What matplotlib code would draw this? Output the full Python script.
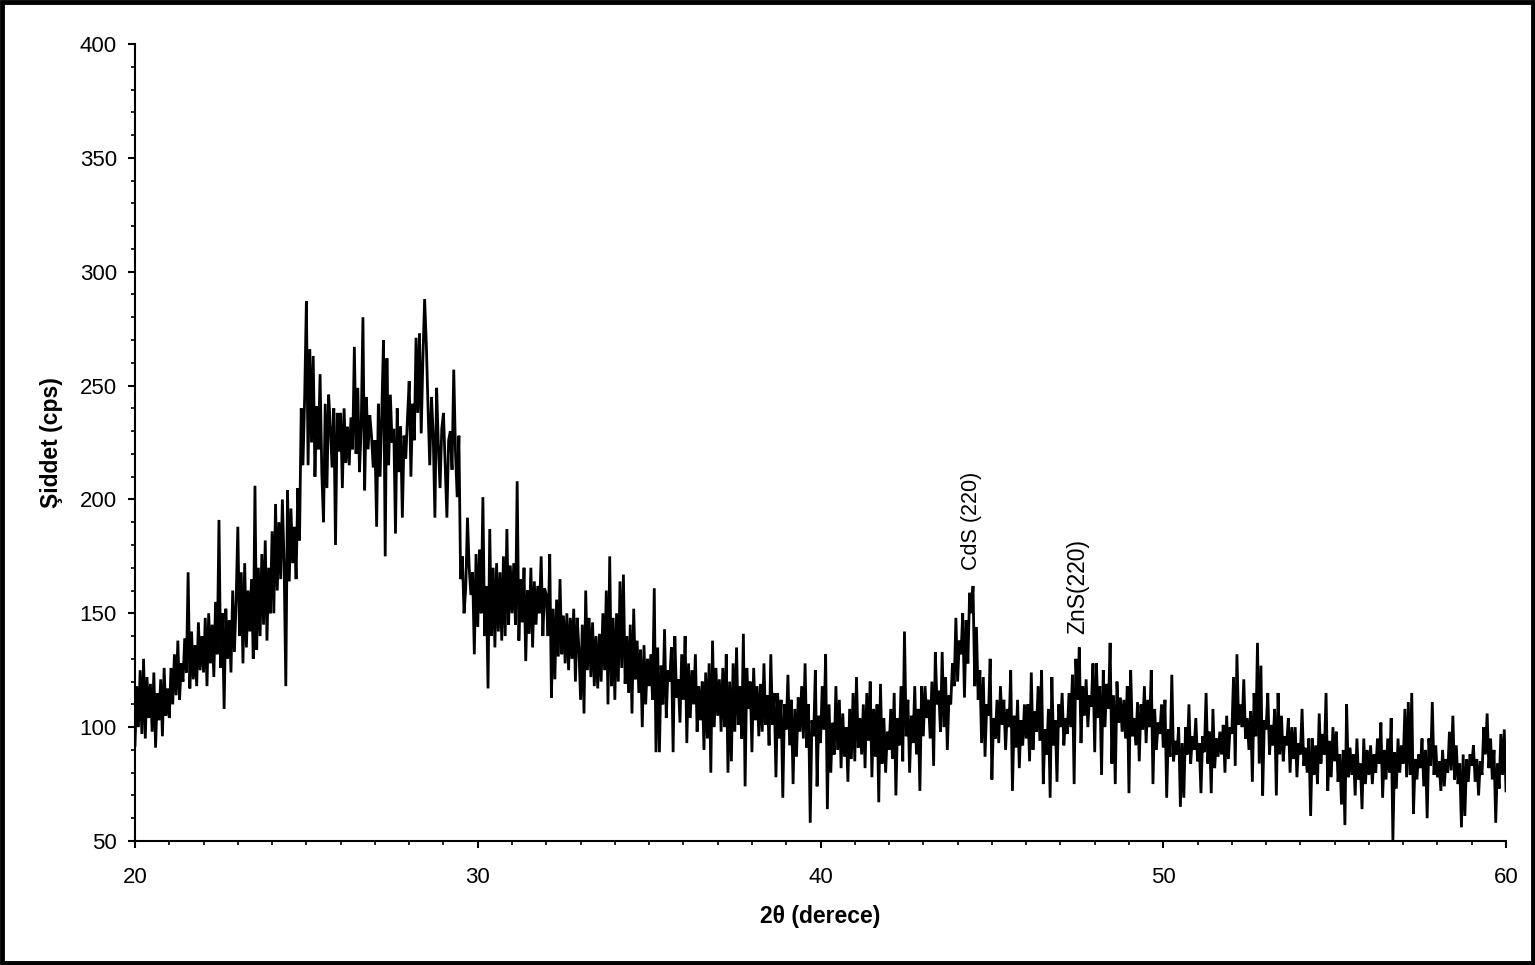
import matplotlib
matplotlib.use("Agg")
import matplotlib.pyplot as plt
from matplotlib.patches import Rectangle
from matplotlib.ticker import MultipleLocator
import numpy as np

plt.rcParams['font.family'] = ['Liberation Sans', 'DejaVu Sans']

# XRD scan: 2-theta from 20 to 60 degrees, 0.05 degree step (20 readings per degree)
two_theta_start = 20.0
two_theta_step = 0.05
intensity = [
    92, 118, 100, 125, 97, 130, 95, 122, 104, 119, 98, 124, 91, 115, 103, 121, 96, 126, 105, 117,
    104, 126, 110, 132, 114, 138, 112, 128, 120, 139, 124, 168, 117, 142, 121, 136, 118, 146, 125, 140,
    124, 148, 118, 150, 128, 145, 122, 155, 132, 191, 126, 150, 108, 152, 130, 147, 124, 160, 133, 155,
    188, 140, 168, 128, 172, 135, 160, 142, 165, 130, 206, 134, 170, 140, 176, 145, 182, 138, 170, 150,
    186, 150, 198, 160, 190, 165, 200, 172, 118, 204, 164, 196, 172, 188, 165, 205, 182, 240, 215, 245,
    287, 215, 266, 225, 263, 210, 241, 222, 255, 212, 190, 242, 205, 246, 232, 214, 240, 180, 238, 221,
    238, 205, 240, 216, 232, 215, 236, 222, 267, 220, 249, 212, 232, 280, 204, 245, 222, 237, 228, 214,
    226, 188, 242, 210, 238, 270, 175, 262, 215, 246, 225, 231, 185, 240, 212, 232, 192, 228, 218, 236,
    252, 210, 242, 226, 271, 238, 273, 229, 262, 288, 268, 240, 215, 245, 229, 192, 249, 224, 205, 231,
    238, 215, 192, 226, 230, 213, 257, 221, 201, 228, 165, 175, 150, 161, 192, 170, 158, 168, 132, 176,
    144, 178, 150, 201, 140, 162, 117, 187, 140, 170, 135, 172, 142, 168, 138, 175, 140, 187, 145, 171,
    150, 172, 145, 208, 138, 165, 146, 170, 129, 160, 141, 170, 135, 164, 145, 162, 150, 175, 140, 161,
    158, 140, 176, 113, 152, 121, 156, 131, 165, 132, 149, 128, 150, 125, 148, 130, 152, 120, 148, 135,
    112, 145, 106, 160, 125, 148, 122, 146, 118, 140, 117, 141, 120, 150, 125, 160, 110, 175, 118, 148,
    112, 150, 120, 164, 126, 167, 119, 140, 115, 145, 106, 152, 121, 138, 115, 134, 100, 136, 110, 130,
    118, 132, 112, 161, 89, 135, 89, 127, 110, 143, 104, 125, 120, 135, 89, 140, 113, 121, 102, 132,
    112, 140, 93, 128, 104, 125, 110, 132, 98, 118, 103, 120, 90, 124, 95, 128, 80, 138, 100, 126,
    105, 121, 98, 126, 100, 132, 80, 120, 85, 128, 98, 135, 101, 118, 95, 141, 74, 126, 108, 120,
    89, 126, 103, 118, 96, 119, 98, 128, 101, 114, 92, 132, 101, 115, 78, 115, 95, 112, 69, 110,
    99, 123, 92, 112, 75, 108, 87, 113, 98, 118, 95, 128, 91, 110, 58, 103, 96, 125, 74, 105,
    93, 118, 99, 132, 64, 110, 80, 102, 88, 118, 90, 112, 82, 106, 87, 100, 76, 108, 86, 115,
    85, 122, 91, 104, 88, 110, 82, 115, 94, 120, 78, 108, 87, 110, 67, 119, 84, 104, 80, 98,
    90, 108, 86, 115, 70, 104, 92, 118, 85, 142, 96, 112, 80, 105, 93, 118, 88, 108, 72, 118,
    96, 118, 104, 112, 95, 120, 83, 133, 110, 116, 98, 133, 100, 122, 90, 114, 110, 128, 118, 148,
    120, 138, 132, 150, 113, 147, 128, 159, 150, 162, 118, 144, 112, 125, 93, 122, 87, 110, 105, 130,
    77, 104, 95, 112, 93, 118, 101, 112, 90, 108, 100, 125, 72, 105, 91, 112, 82, 103, 92, 110,
    95, 110, 85, 124, 90, 107, 98, 118, 94, 125, 75, 99, 88, 108, 69, 122, 92, 103, 76, 110,
    100, 115, 92, 104, 97, 115, 100, 123, 75, 130, 112, 135, 93, 118, 105, 121, 100, 114, 109, 128,
    89, 128, 104, 118, 79, 125, 100, 119, 108, 137, 84, 114, 75, 120, 102, 113, 98, 112, 95, 118,
    71, 125, 96, 104, 92, 111, 85, 110, 99, 118, 93, 112, 100, 125, 75, 108, 90, 102, 97, 110,
    91, 112, 69, 99, 87, 123, 85, 94, 88, 100, 65, 93, 69, 100, 88, 110, 84, 96, 90, 104,
    85, 93, 71, 96, 89, 115, 84, 98, 71, 108, 82, 95, 87, 98, 88, 101, 80, 105, 86, 100,
    97, 122, 83, 132, 101, 110, 100, 121, 95, 104, 90, 107, 76, 115, 96, 137, 84, 127, 70, 103,
    99, 115, 88, 101, 92, 108, 70, 115, 88, 105, 85, 96, 92, 104, 80, 100, 86, 100, 78, 93,
    88, 108, 83, 91, 80, 95, 61, 95, 79, 92, 75, 106, 84, 97, 88, 115, 72, 94, 78, 100,
    85, 98, 76, 88, 66, 90, 57, 110, 78, 91, 79, 88, 70, 95, 77, 84, 64, 95, 75, 90,
    79, 92, 75, 88, 80, 95, 84, 102, 69, 90, 77, 95, 80, 104, 50, 89, 73, 95, 80, 92,
    84, 108, 78, 111, 79, 115, 62, 86, 77, 88, 82, 95, 74, 90, 60, 95, 83, 111, 79, 92,
    78, 85, 72, 90, 74, 86, 80, 98, 81, 105, 77, 92, 75, 84, 56, 88, 61, 86, 76, 88,
    83, 92, 76, 86, 70, 85, 79, 100, 88, 106, 82, 95, 77, 90, 58, 84, 73, 97, 79, 99,
    72,
]

# Peak labels: text, 2-theta position, intensity at the text base, font size
peak_labels = ["CdS (220)", "ZnS(220)"]
peak_x = [44.4, 47.5]
peak_y = [169, 141]
peak_fontsize = [15.5, 16.5]

x_label = "2θ (derece)"
y_label = "Şiddet (cps)"

two_theta = two_theta_start + two_theta_step * np.arange(len(intensity))

fig = plt.figure(figsize=(15.35, 9.65), dpi=100)
ax = fig.add_axes([135 / 1535, 1 - 841 / 965, (1506 - 135) / 1535, (841 - 44) / 965])

ax.plot(two_theta, intensity, color='black', lw=2.0, solid_joinstyle='miter')

ax.set_xlim(20, 60)
ax.set_ylim(50, 400)
ax.xaxis.set_major_locator(MultipleLocator(10))
ax.xaxis.set_minor_locator(MultipleLocator(1))
ax.yaxis.set_major_locator(MultipleLocator(50))
ax.yaxis.set_minor_locator(MultipleLocator(10))

for side in ('top', 'right'):
    ax.spines[side].set_visible(False)
for side in ('left', 'bottom'):
    ax.spines[side].set_linewidth(1.5)

ax.tick_params(which='major', direction='out', length=5, width=1.5, labelsize=16)
ax.tick_params(which='minor', direction='out', length=3, width=1.2)
ax.tick_params(axis='x', which='major', pad=14)
ax.tick_params(axis='y', which='major', pad=8)

ax.set_xlabel(x_label, fontsize=16.5, fontweight='bold', labelpad=12)
ax.set_ylabel(y_label, fontsize=16.5, fontweight='bold', labelpad=12)

for txt, xx, yy, fs in zip(peak_labels, peak_x, peak_y, peak_fontsize):
    ax.text(xx, yy, txt, rotation=90, ha='center', va='bottom', fontsize=fs)

# frame around the whole figure
fig.patches.append(Rectangle((0.0015, 0.0025), 0.997, 0.995, transform=fig.transFigure,
                             fill=False, edgecolor='black', linewidth=3.5))

fig.savefig("out.png", dpi=100)
